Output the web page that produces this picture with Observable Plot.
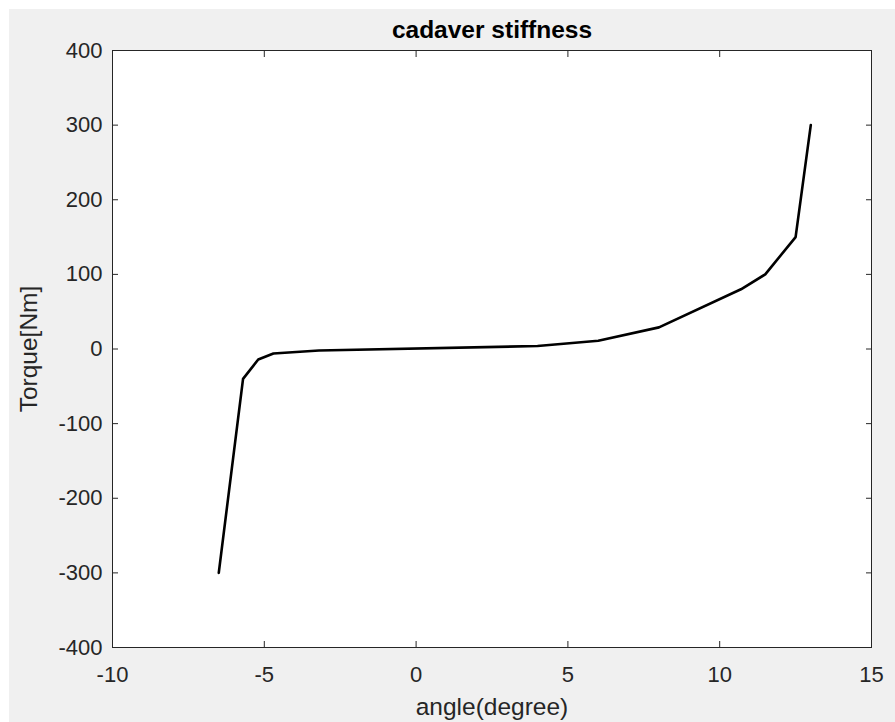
<!DOCTYPE html>
<html>
<head>
<meta charset="utf-8">
<script src="https://cdn.jsdelivr.net/npm/d3@7"></script>
<script src="https://cdn.jsdelivr.net/npm/@observablehq/plot@0.6"></script>
<style>
  html, body { margin: 0; padding: 0; background: #ffffff; }
  #fig { position: absolute; left: 9px; top: 9px; width: 886px; height: 713px; background: #f0f0f0; }
  #fig svg { display: block; background: transparent; }
</style>
</head>
<body>
<div id="fig"></div>
<script>
const title = "cadaver stiffness";
const xLabel = "angle(degree)";
const yLabel = "Torque[Nm]";
const angle = [-6.5, -5.7, -5.2, -4.7, -3.2, 4, 6, 8, 10.7, 11.5, 12.5, 13];
const torque = [-300, -40, -14, -6, -2, 4, 11, 29, 80, 100, 150, 300];
const xTicks = [-10, -5, 0, 5, 10, 15];
const yTicks = [-400, -300, -200, -100, 0, 100, 200, 300, 400];

const data = angle.map((a, i) => ({angle: a, torque: torque[i]}));
const font = "'Liberation Sans', Arial, Helvetica, sans-serif";
const ink = "#262626";

const chart = Plot.plot({
  width: 886,
  height: 713,
  marginLeft: 103,
  marginRight: 24,
  marginTop: 41,
  marginBottom: 75,
  style: {fontFamily: font, background: "transparent", color: ink},
  x: {domain: [-10, 15], axis: null, label: null},
  y: {domain: [-400, 400], axis: null, label: null},
  marks: [
    Plot.frame({fill: "white", stroke: null}),
    Plot.line(data, {x: "angle", y: "torque", stroke: "black", strokeWidth: 2.6}),
    Plot.axisX(xTicks, {anchor: "bottom", label: null, tickSize: -6, tickPadding: 25, fontSize: 22, stroke: ink, fill: ink, tickFormat: d => String(d)}),
    Plot.axisX(xTicks, {anchor: "top", label: null, tickSize: -6, tickFormat: () => "", stroke: ink}),
    Plot.axisY(yTicks, {anchor: "left", label: null, tickSize: -6, tickPadding: 16, fontSize: 22, stroke: ink, fill: ink, tickFormat: d => String(d)}),
    Plot.axisY(yTicks, {anchor: "right", label: null, tickSize: -6, tickFormat: () => "", stroke: ink}),
    Plot.frame({stroke: ink, strokeWidth: 1}),
    Plot.text([title], {frameAnchor: "top", dy: -20, lineAnchor: "middle", textAnchor: "middle", fontSize: 24.5, fontWeight: "bold", fill: "black"}),
    Plot.text([xLabel], {frameAnchor: "bottom", dy: 60, lineAnchor: "middle", textAnchor: "middle", fontSize: 24.5, fill: ink}),
    Plot.text([yLabel], {frameAnchor: "left", dx: -83, rotate: -90, lineAnchor: "middle", textAnchor: "middle", fontSize: 24.5, fill: ink})
  ]
});
document.getElementById("fig").appendChild(chart);
</script>
</body>
</html>
